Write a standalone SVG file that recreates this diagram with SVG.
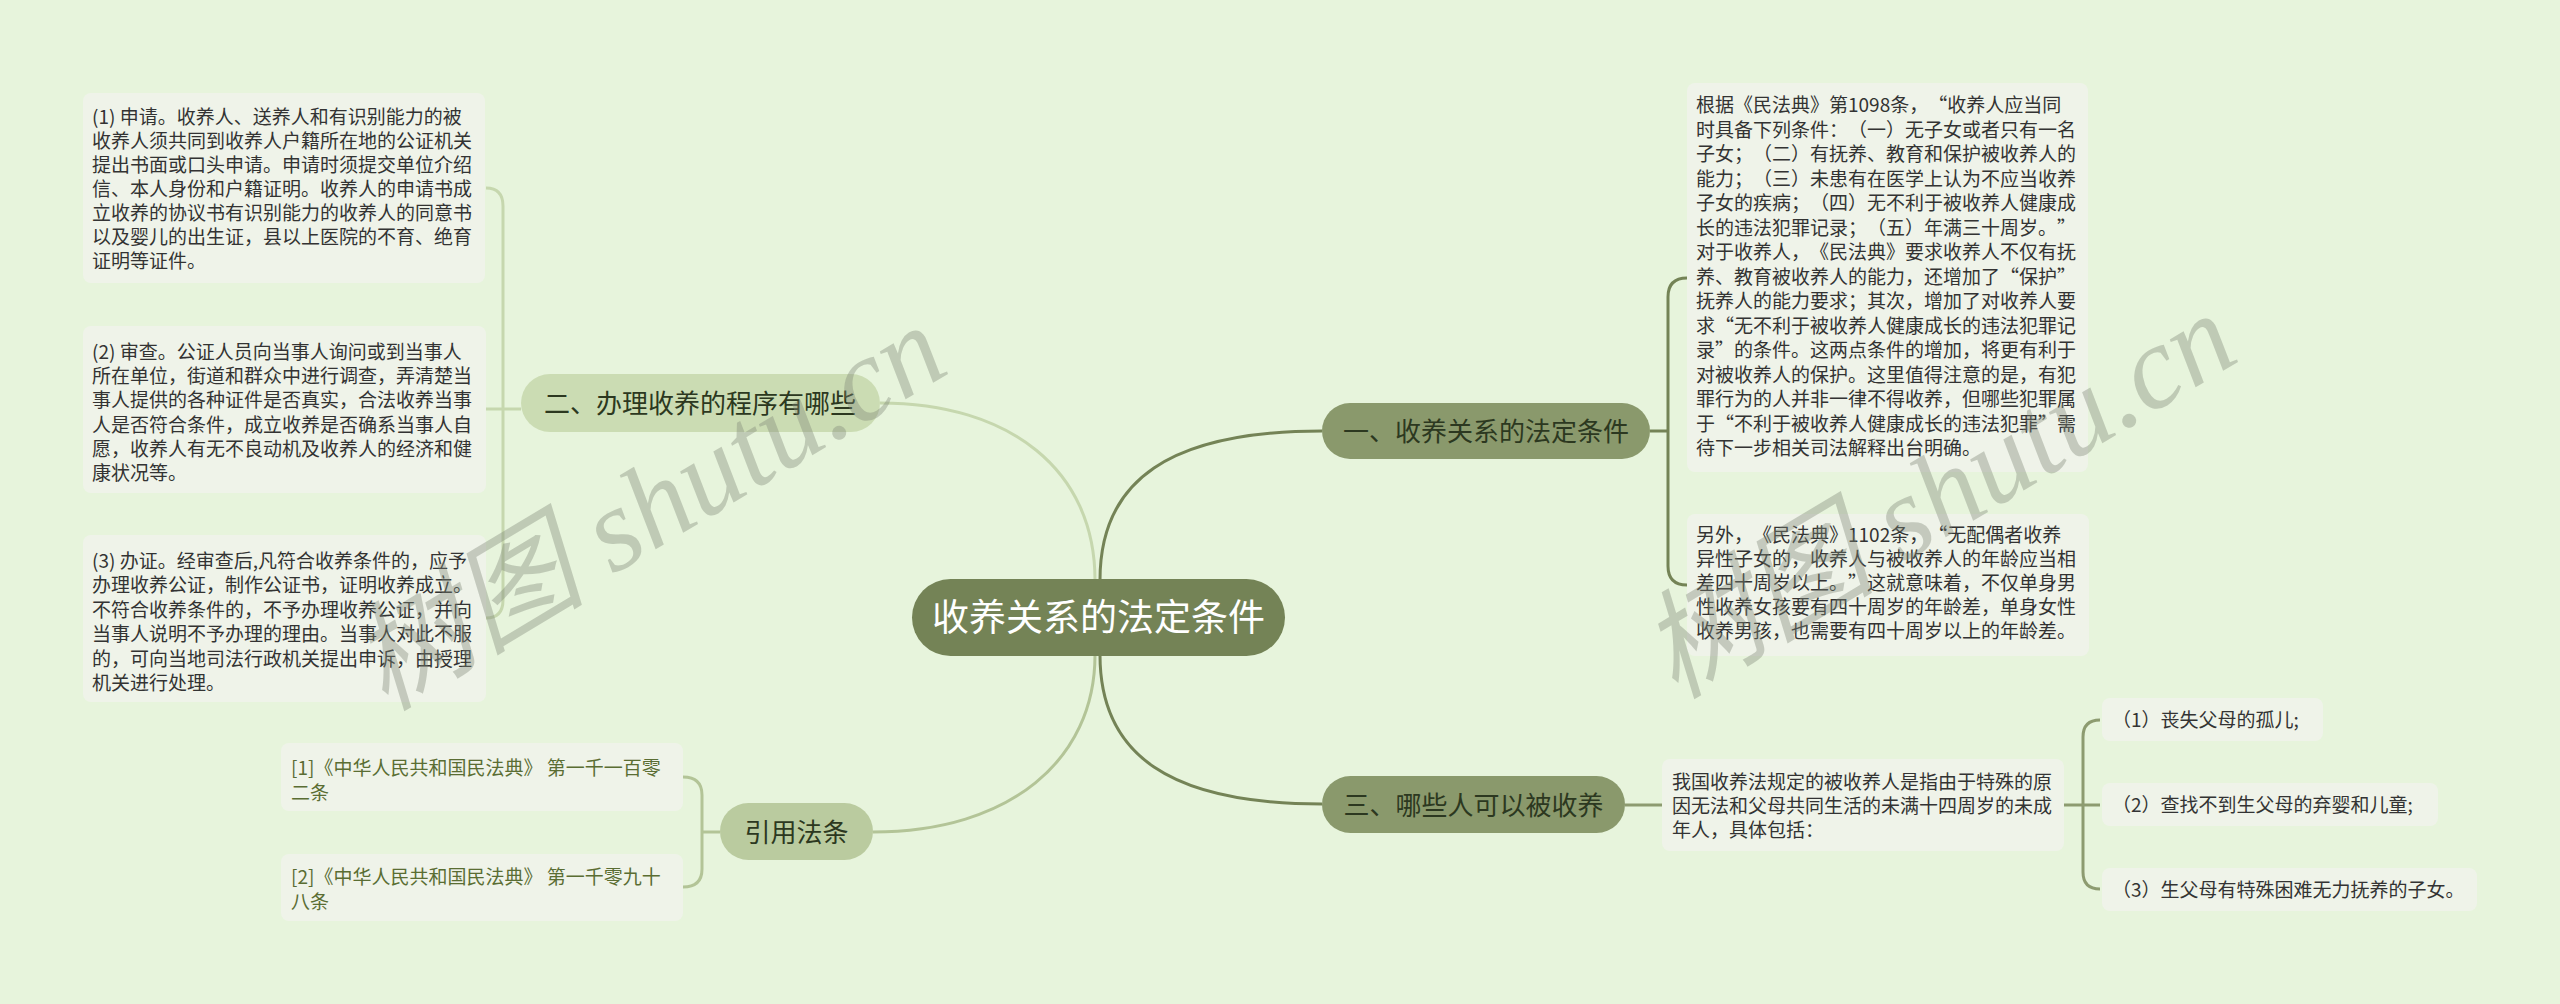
<svg xmlns="http://www.w3.org/2000/svg" width="2560" height="1004" viewBox="0 0 2560 1004">
<style>
text{font-family:"Noto Sans CJK SC","Noto Sans",sans-serif;text-spacing-trim:space-all}
.leaf{fill:#eff3e9}
.lt{font-size:19px;fill:#333333}
.ct{font-size:19px;fill:#5a6d33}
.bt{font-size:26px;fill:#2c3820;text-anchor:middle}
.rt{font-size:37px;fill:#ffffff;text-anchor:middle}
.dark{fill:none;stroke:#748356;stroke-width:3}
.mid{fill:none;stroke:#8d9b70;stroke-width:3}
.light{fill:none;stroke:#c6d7ae;stroke-width:3}
.light2{fill:none;stroke:#b3c497;stroke-width:3}
.wm{font-family:"Liberation Serif","Noto Sans CJK SC",serif;font-style:italic;font-size:118px;fill:#7d8577;fill-opacity:0.38}
</style>
<rect x="0" y="0" width="2560" height="1004" fill="#e7f4dc"/>
<g id="connectors">
<path class="dark" d="M1100,580 C1100,480 1170,431 1322,431"/>
<path class="light" d="M1095,580 C1095,470 1010,403 880,403"/>
<path class="dark" d="M1100,655 C1100,755 1170,804 1322,804"/>
<path class="light2" d="M1095,655 C1095,760 1010,832 873,832"/>
<path class="light" d="M486,188 Q503,188 503,206 L503,600 Q503,618 486,618 M486,409 H521"/>
<path class="light2" d="M683,777 Q702,777 702,795 L702,869 Q702,887 683,887 M702,832 H720"/>
<path class="dark" d="M1687,278 Q1668,278 1668,297 L1668,566 Q1668,585 1687,585 M1650,431 H1668"/>
<path class="mid" d="M1625,805 H1662"/>
<path class="mid" d="M2064,805 H2083 M2100,720 Q2083,720 2083,737 L2083,872 Q2083,889 2100,889 M2083,805 H2100"/>
</g>
<g id="root">
<rect x="912" y="579" width="373" height="77" rx="38.5" fill="#748356"/>
<text class="rt" x="1098.5" y="631">收养关系的法定条件</text>
</g>
<g id="b1">
<rect x="1322" y="403" width="328" height="56" rx="28" fill="#8a996c"/>
<text class="bt" x="1486" y="441">一、收养关系的法定条件</text>
</g>
<g id="b2">
<rect x="521" y="374" width="359" height="58" rx="29" fill="#cbdcb3"/>
<text class="bt" x="700" y="413">二、办理收养的程序有哪些</text>
</g>
<g id="b3">
<rect x="1322" y="776" width="303" height="57" rx="28.5" fill="#8a996c"/>
<text class="bt" x="1473.5" y="815">三、哪些人可以被收养</text>
</g>
<g id="b4">
<rect x="720" y="803" width="153" height="57" rx="28.5" fill="#bacb9f"/>
<text class="bt" x="796.5" y="842">引用法条</text>
</g>
<g id="leaf-l1">
<rect class="leaf" x="83" y="93" width="402" height="190" rx="8"/>
<text class="lt" x="92" y="124"><tspan x="92">(1) 申请。收养人、送养人和有识别能力的被</tspan><tspan x="92" dy="24">收养人须共同到收养人户籍所在地的公证机关</tspan><tspan x="92" dy="24">提出书面或口头申请。申请时须提交单位介绍</tspan><tspan x="92" dy="24">信、本人身份和户籍证明。收养人的申请书成</tspan><tspan x="92" dy="24">立收养的协议书有识别能力的收养人的同意书</tspan><tspan x="92" dy="24">以及婴儿的出生证，县以上医院的不育、绝育</tspan><tspan x="92" dy="24">证明等证件。</tspan></text>
</g>
<g id="leaf-l2">
<rect class="leaf" x="83" y="326" width="403" height="167" rx="8"/>
<text class="lt" x="92" y="359"><tspan x="92">(2) 审查。公证人员向当事人询问或到当事人</tspan><tspan x="92" dy="24.2">所在单位，街道和群众中进行调查，弄清楚当</tspan><tspan x="92" dy="24.2">事人提供的各种证件是否真实，合法收养当事</tspan><tspan x="92" dy="24.2">人是否符合条件，成立收养是否确系当事人自</tspan><tspan x="92" dy="24.2">愿，收养人有无不良动机及收养人的经济和健</tspan><tspan x="92" dy="24.2">康状况等。</tspan></text>
</g>
<g id="leaf-l3">
<rect class="leaf" x="83" y="535" width="403" height="167" rx="8"/>
<text class="lt" x="92" y="568"><tspan x="92">(3) 办证。经审查后,凡符合收养条件的，应予</tspan><tspan x="92" dy="24.4">办理收养公证，制作公证书，证明收养成立。</tspan><tspan x="92" dy="24.4">不符合收养条件的，不予办理收养公证，并向</tspan><tspan x="92" dy="24.4">当事人说明不予办理的理由。当事人对此不服</tspan><tspan x="92" dy="24.4">的，可向当地司法行政机关提出申诉，由授理</tspan><tspan x="92" dy="24.4">机关进行处理。</tspan></text>
</g>
<g id="cite-1">
<rect class="leaf" x="281" y="743" width="402" height="68" rx="8"/>
<text class="ct" x="291" y="775"><tspan x="291">[1]《中华人民共和国民法典》 第一千一百零</tspan><tspan x="291" dy="24.5">二条</tspan></text>
</g>
<g id="cite-2">
<rect class="leaf" x="281" y="854" width="402" height="67" rx="8"/>
<text class="ct" x="291" y="884"><tspan x="291">[2]《中华人民共和国民法典》 第一千零九十</tspan><tspan x="291" dy="24.5">八条</tspan></text>
</g>
<g id="leaf-r1">
<rect class="leaf" x="1687" y="83" width="401" height="389" rx="8"/>
<text class="lt" x="1696" y="112"><tspan x="1696">根据《民法典》第1098条，“收养人应当同</tspan><tspan x="1696" dy="24.5">时具备下列条件：（一）无子女或者只有一名</tspan><tspan x="1696" dy="24.5">子女；（二）有抚养、教育和保护被收养人的</tspan><tspan x="1696" dy="24.5">能力；（三）未患有在医学上认为不应当收养</tspan><tspan x="1696" dy="24.5">子女的疾病；（四）无不利于被收养人健康成</tspan><tspan x="1696" dy="24.5">长的违法犯罪记录；（五）年满三十周岁。”</tspan><tspan x="1696" dy="24.5">对于收养人，《民法典》要求收养人不仅有抚</tspan><tspan x="1696" dy="24.5">养、教育被收养人的能力，还增加了“保护”</tspan><tspan x="1696" dy="24.5">抚养人的能力要求；其次，增加了对收养人要</tspan><tspan x="1696" dy="24.5">求“无不利于被收养人健康成长的违法犯罪记</tspan><tspan x="1696" dy="24.5">录”的条件。这两点条件的增加，将更有利于</tspan><tspan x="1696" dy="24.5">对被收养人的保护。这里值得注意的是，有犯</tspan><tspan x="1696" dy="24.5">罪行为的人并非一律不得收养，但哪些犯罪属</tspan><tspan x="1696" dy="24.5">于“不利于被收养人健康成长的违法犯罪”需</tspan><tspan x="1696" dy="24.5">待下一步相关司法解释出台明确。</tspan></text>
</g>
<g id="leaf-r2">
<rect class="leaf" x="1687" y="514" width="402" height="142" rx="8"/>
<text class="lt" x="1696" y="542"><tspan x="1696">另外，《民法典》1102条，“无配偶者收养</tspan><tspan x="1696" dy="24">异性子女的，收养人与被收养人的年龄应当相</tspan><tspan x="1696" dy="24">差四十周岁以上。”这就意味着，不仅单身男</tspan><tspan x="1696" dy="24">性收养女孩要有四十周岁的年龄差，单身女性</tspan><tspan x="1696" dy="24">收养男孩，也需要有四十周岁以上的年龄差。</tspan></text>
</g>
<g id="leaf-r3">
<rect class="leaf" x="1662" y="759" width="402" height="92" rx="8"/>
<text class="lt" x="1672" y="789"><tspan x="1672">我国收养法规定的被收养人是指由于特殊的原</tspan><tspan x="1672" dy="24">因无法和父母共同生活的未满十四周岁的未成</tspan><tspan x="1672" dy="24">年人，具体包括：</tspan></text>
</g>
<g id="leaf-d1">
<rect class="leaf" x="2102" y="698" width="221" height="43" rx="8"/>
<text class="lt" x="2112" y="727">（1）丧失父母的孤儿;</text>
</g>
<g id="leaf-d2">
<rect class="leaf" x="2102" y="783" width="336" height="43" rx="8"/>
<text class="lt" x="2112" y="812">（2）查找不到生父母的弃婴和儿童;</text>
</g>
<g id="leaf-d3">
<rect class="leaf" x="2102" y="868" width="375" height="43" rx="8"/>
<text class="lt" x="2112" y="897">（3）生父母有特殊困难无力抚养的子女。</text>
</g>
<g id="watermark">
<text class="wm" transform="translate(385,712) rotate(-31)">树图 shutu.cn</text>
<text class="wm" transform="translate(1675,700) rotate(-31)">树图 shutu.cn</text>
</g>
</svg>
